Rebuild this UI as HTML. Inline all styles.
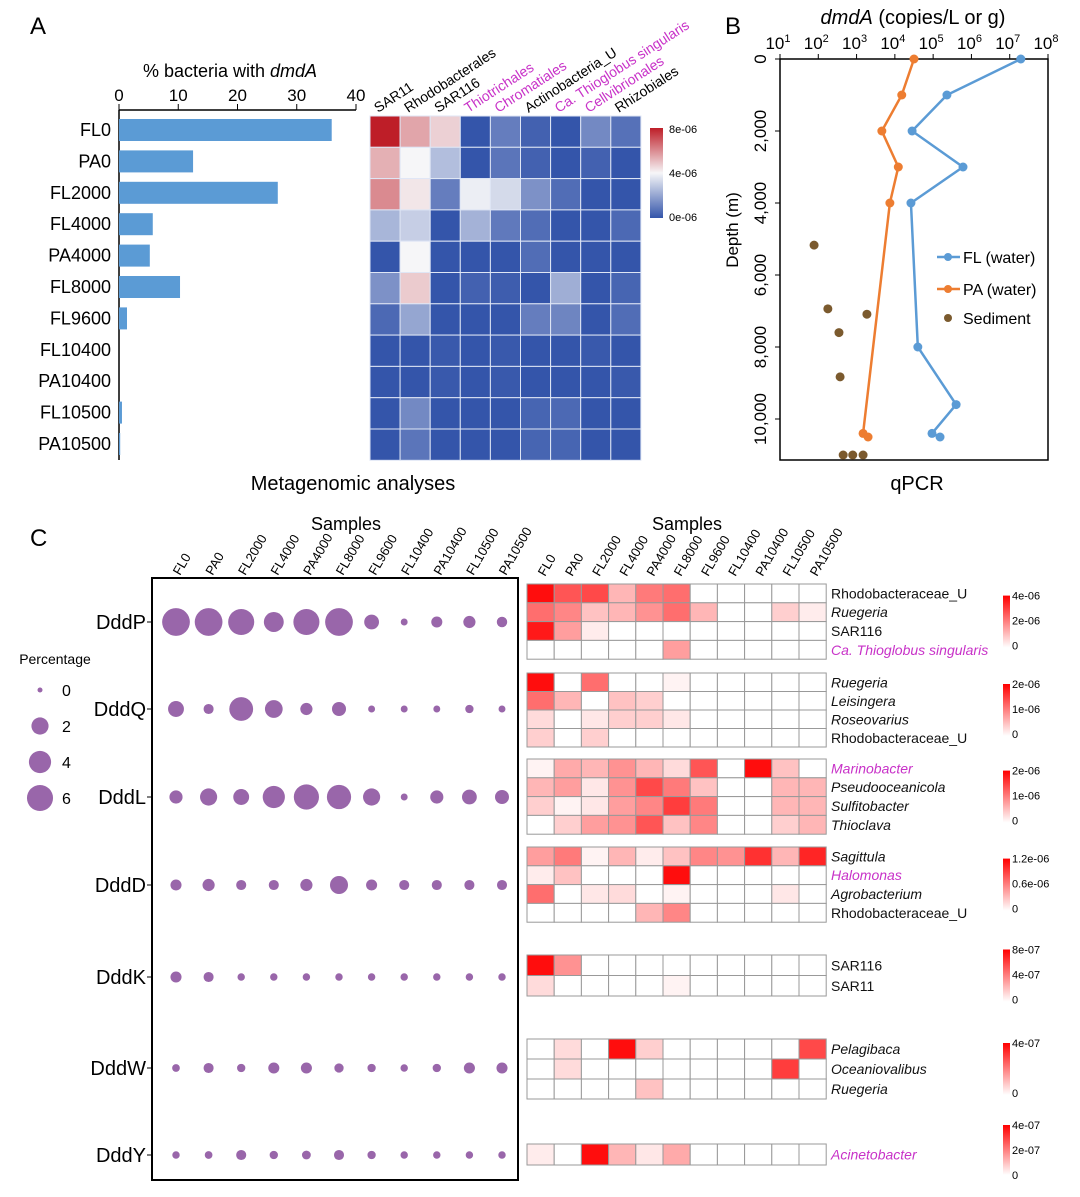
<!DOCTYPE html>
<html><head><meta charset="utf-8"><style>
body{margin:0;background:#fff}
svg{display:block;font-family:"Liberation Sans",Arial,sans-serif}
</style></head><body>
<svg id="fig" width="1080" height="1197" viewBox="0 0 1080 1197" xmlns="http://www.w3.org/2000/svg">
<text x="30" y="34" font-size="24">A</text>
<text x="725" y="34" font-size="24">B</text>
<text x="30" y="546" font-size="24">C</text>
<text x="230" y="77" font-size="18" text-anchor="middle">% bacteria with <tspan font-style="italic">dmdA</tspan></text>
<text x="353" y="490" font-size="20" text-anchor="middle">Metagenomic analyses</text>
<text x="917" y="490" font-size="20" text-anchor="middle">qPCR</text>
<g id="gA"></g>
<g id="gH"></g>
<g id="gB"></g>
<g id="gC"></g>
<g id="gR"></g>
</svg>
<script>
const samples=["FL0","PA0","FL2000","FL4000","PA4000","FL8000","FL9600","FL10400","PA10400","FL10500","PA10500"];
const barValues=[35.9,12.5,26.8,5.7,5.2,10.3,1.35,0,0,0.5,0.2];
const barTicks=[0,10,20,30,40];
const taxaA=["SAR11","Rhodobacterales","SAR116","Thiotrichales","Chromatiales","Actinobacteria_U","Ca. Thioglobus singularis","Cellvibrionales","Rhizobiales"];
const taxaAMagenta=[false,false,false,true,true,false,true,true,false];
const heatA=[
[8,5.5,4.7,0,1,0.3,0,1.3,0.7],
[5.3,4,2.6,0,0.8,0.3,0,0.3,0],
[6,4.3,1,3.8,3.3,1.5,0.6,0,0],
[2.4,3,0,2.3,0.9,0.6,0,0,0.5],
[0,4,0,0,0,0.6,0,0,0],
[1.5,4.8,0,0.3,0.2,0,2.2,0,0.4],
[0.5,2,0,0,0,1,1.2,0,0.6],
[0,0,0.1,0,0.1,0,0,0.1,0],
[0,0,0.1,0,0.1,0,0,0,0.1],
[0,1.3,0,0,0,0.4,0.5,0,0],
[0,0.8,0,0,0,0.4,0.4,0,0]];
const depthTicks=[0,2000,4000,6000,8000,10000];
const flDepth=[0,1000,2000,3000,4000,8000,9600,10400,10500];
const flLog=[7.29,5.36,4.45,5.78,4.42,4.6,5.6,4.97,5.18];
const paDepth=[0,1000,2000,3000,4000,10400,10500];
const paLog=[4.5,4.18,3.66,4.09,3.87,3.17,3.3];
const sedDepth=[5170,6940,7090,7600,8830,11000,11000,11000];
const sedLog=[1.89,2.25,3.27,2.54,2.57,2.65,2.9,3.17];
const genes=["DddP","DddQ","DddL","DddD","DddK","DddW","DddY"];
const bubbles=[
[7,7,6,3,6,7,1.3,0.05,0.5,0.7,0.4],
[1.6,0.35,4.8,2.2,0.7,1.1,0.05,0.05,0.05,0.15,0.05],
[0.9,2,1.6,4,5.5,5,2,0.05,0.9,1.3,1.1],
[0.5,0.7,0.35,0.35,0.7,2.3,0.5,0.35,0.35,0.35,0.35],
[0.5,0.35,0.08,0.08,0.08,0.08,0.08,0.08,0.08,0.08,0.08],
[0.1,0.35,0.15,0.5,0.5,0.25,0.15,0.08,0.15,0.5,0.5],
[0.08,0.1,0.35,0.15,0.2,0.35,0.15,0.08,0.08,0.08,0.08]];
const sizeLegend=[0,2,4,6];
const gTaxa=[
["Rhodobacteraceae_U","Ruegeria","SAR116","Ca. Thioglobus singularis"],
["Ruegeria","Leisingera","Roseovarius","Rhodobacteraceae_U"],
["Marinobacter","Pseudooceanicola","Sulfitobacter","Thioclava"],
["Sagittula","Halomonas","Agrobacterium","Rhodobacteraceae_U"],
["SAR116","SAR11"],
["Pelagibaca","Oceaniovalibus","Ruegeria"],
["Acinetobacter"]];
const gVals=[
[[1,.7,.75,.3,.55,.6,0,0,0,0,0],[.6,.5,.25,.3,.45,.6,.3,0,0,.2,.08],[.95,.4,.08,0,0,0,0,0,0,0,0],[0,0,0,0,0,.4,0,0,0,0,0]],
[[1,0,.6,0,0,.05,0,0,0,0,0],[.6,.3,0,.25,.2,0,0,0,0,0,0],[.15,0,.1,.2,.2,.1,0,0,0,0,0],[.2,0,.2,0,0,0,0,0,0,0,0]],
[[.05,.35,.3,.45,.3,.15,.7,0,1,.25,0],[.3,.4,.1,.45,.75,.55,.25,0,0,.3,.3],[.2,.05,.1,.4,.5,.8,.55,0,0,.3,.3],[0,.2,.4,.45,.7,.25,.5,0,0,.2,.3]],
[[.4,.55,.05,.3,.08,.25,.5,.45,.85,.3,.9],[.08,.25,0,0,0,1,0,0,0,0,0],[.6,0,.1,.15,0,.05,0,0,0,.1,0],[0,0,0,0,.3,.5,0,0,0,0,0]],
[[1,.45,0,0,0,0,0,0,0,0,0],[.15,0,0,0,0,.05,0,0,0,0,0]],
[[0,.15,0,1,.2,0,0,0,0,0,.75],[0,.15,0,0,0,0,0,0,0,.8,0],[0,0,0,0,.25,0,0,0,0,0,0]],
[[.08,0,1,.3,.1,.35,0,0,0,0,0]]];
const gLegend=[["4e-06","2e-06","0"],["2e-06","1e-06","0"],["2e-06","1e-06","0"],["1.2e-06","0.6e-06","0"],["8e-07","4e-07","0"],["4e-07","","0"],["4e-07","2e-07","0"]];

const NS="http://www.w3.org/2000/svg";
function mk(parent,tag,attrs,text){const e=document.createElementNS(NS,tag);for(const k in attrs)e.setAttribute(k,attrs[k]);if(text!==undefined)e.textContent=text;parent.appendChild(e);return e;}
const ITAL=new Set(["Ruegeria","Leisingera","Roseovarius","Marinobacter","Pseudooceanicola","Sulfitobacter","Thioclava","Sagittula","Halomonas","Agrobacterium","Pelagibaca","Oceaniovalibus","Acinetobacter","Ca. Thioglobus singularis"]);
const MAG=new Set(["Ca. Thioglobus singularis","Marinobacter","Halomonas","Acinetobacter"]);
const MAGC="#c832c8";

// ---- Panel A bars
const gA=document.getElementById('gA');
const bx=v=>119+v*(356-119)/40, rowY=i=>130+i*31.4;
mk(gA,'line',{x1:119,y1:110,x2:356,y2:110,stroke:'#000','stroke-width':1.5});
mk(gA,'line',{x1:119,y1:110,x2:119,y2:460,stroke:'#000','stroke-width':1.5});
barTicks.forEach(t=>{
 const l=mk(gA,'line',{x1:bx(t),y1:110,x2:bx(t),y2:104,stroke:'#000'});
 
 const tx=mk(gA,'text',{x:bx(t),y:101,'font-size':17,'text-anchor':'middle'},t);
 
});
samples.forEach((s,i)=>{
 const r=mk(gA,'rect',{x:119,y:rowY(i)-11,width:Math.max(0,bx(barValues[i])-119),height:22,fill:'#5b9bd5'});
 
 const t=mk(gA,'text',{x:111,y:rowY(i)+6,'font-size':18,'text-anchor':'end'},s);
 
});

// ---- Heatmap A
const gH=document.getElementById('gH');
function div(v){const t=Math.max(0,Math.min(1,v/8));let a,b,f;
 if(t<0.5){a=[52,85,170];b=[246,246,248];f=t/0.5;}else{a=[246,246,248];b=[190,30,40];f=(t-0.5)/0.5;}
 return 'rgb('+a.map((c,k)=>Math.round(c+(b[k]-c)*f)).join(',')+')';}
const cw=30.1,ch=31.3,hx=370,hy=116;
heatA.forEach((row,i)=>row.forEach((v,j)=>{
 const r=mk(gH,'rect',{x:hx+j*cw,y:hy+i*ch,width:cw,height:ch,fill:div(v),stroke:'#dfe6f5','stroke-width':1});
 
}));
taxaA.forEach((n,j)=>{
 const x=hx+j*cw+8,y=hy-3;
 const t=mk(gH,'text',{x:x,y:y,'font-size':14,transform:'rotate(-33 '+x+' '+y+')',fill:taxaAMagenta[j]?MAGC:'#000'},n);
 
});
const gradA=mk(gH,'linearGradient',{id:'gradA',x1:0,y1:1,x2:0,y2:0});
[0,4,8].forEach((v,k)=>mk(gradA,'stop',{offset:k/2,'stop-color':div(v)}));
const cbA=mk(gH,'rect',{x:650,y:128,width:13,height:90,fill:'url(#gradA)'});

[["8e-06",133],["4e-06",177],["0e-06",221]].forEach(([l,y])=>{const t=mk(gH,'text',{x:669,y:y,'font-size':11},l);});

// ---- Panel B
const gB=document.getElementById('gB');
const lx=l=>780+(l-1)*(1048-780)/7, dy=d=>59+d*0.036;
mk(gB,'rect',{x:780,y:59,width:268,height:401,fill:'none',stroke:'#000','stroke-width':1.5});
mk(gB,'text',{x:913,y:24,'font-size':20,'text-anchor':'middle'}).innerHTML='<tspan font-style="italic">dmdA</tspan> (copies/L or g)';
for(let e=1;e<=8;e++){
 const t=mk(gB,'text',{x:lx(e)-2,y:49,'font-size':17,'text-anchor':'middle'});t.innerHTML='10<tspan dy="-7" font-size="11">'+e+'</tspan>';
 
 mk(gB,'line',{x1:lx(e),y1:59,x2:lx(e),y2:54,stroke:'#000'});
}
depthTicks.forEach(d=>{
 const y=dy(d);mk(gB,'line',{x1:780,y1:y,x2:775,y2:y,stroke:'#000'});
 const t=mk(gB,'text',{x:766,y:y,'font-size':17,'text-anchor':'middle',transform:'rotate(-90 766 '+y+')'},d.toLocaleString('en-US'));
 
});
const yt=mk(gB,'text',{x:738,y:230,'font-size':17,'text-anchor':'middle',transform:'rotate(-90 738 230)'},'Depth (m)');

function series(dep,lg,col,name){
 const pts=dep.map((d,i)=>lx(lg[i])+','+dy(d)).join(' ');
 const pl=mk(gB,'polyline',{points:pts,fill:'none',stroke:col,'stroke-width':2.5});
 
 dep.forEach((d,i)=>{const c=mk(gB,'circle',{cx:lx(lg[i]),cy:dy(d),r:4.5,fill:col});});
}
series(flDepth,flLog,'#5b9bd5','fl');
series(paDepth,paLog,'#ed7d31','pa');
sedDepth.forEach((d,i)=>{const c=mk(gB,'circle',{cx:lx(sedLog[i]),cy:dy(d),r:4.5,fill:'#7b5a2e'});});
[["#5b9bd5","FL (water)",257,true],["#ed7d31","PA (water)",289,true],["#7b5a2e","Sediment",318,false]].forEach(([c,l,y,ln])=>{
 if(ln)mk(gB,'line',{x1:937,y1:y,x2:960,y2:y,stroke:c,'stroke-width':2.5});
 mk(gB,'circle',{cx:948,cy:y,r:4,fill:c});
 const t=mk(gB,'text',{x:963,y:y+6,'font-size':16},l);
});

// ---- Panel C bubbles
const gC=document.getElementById('gC');
const sx=j=>176+j*32.6, gy=[622,709,797,885,977,1068,1155];
const rad=v=>2.5+Math.sqrt(v)*4.3;
mk(gC,'rect',{x:152,y:578,width:366,height:602,fill:'none',stroke:'#000','stroke-width':2});
mk(gC,'text',{x:346,y:530,'font-size':18,'text-anchor':'middle'},'Samples');
mk(gC,'text',{x:687,y:530,'font-size':18,'text-anchor':'middle'},'Samples');
samples.forEach((s,j)=>{
 const x=sx(j)+4,y=576;
 const t=mk(gC,'text',{x:x,y:y,'font-size':13,transform:'rotate(-60 '+x+' '+y+')'},s);
 const x2=541+j*27.2+4,y2=577;
 const t2=mk(gC,'text',{x:x2,y:y2,'font-size':13,transform:'rotate(-60 '+x2+' '+y2+')'},s);
});
genes.forEach((g,i)=>{
 const t=mk(gC,'text',{x:146,y:gy[i]+7,'font-size':20,'text-anchor':'end'},g);
 mk(gC,'line',{x1:147,y1:gy[i],x2:152,y2:gy[i],stroke:'#000'});
 bubbles[i].forEach((v,j)=>{const c=mk(gC,'circle',{cx:sx(j),cy:gy[i],r:rad(v),fill:'#9966aa'});});
});
mk(gC,'text',{x:55,y:664,'font-size':14,'text-anchor':'middle'},'Percentage');
sizeLegend.forEach((v,k)=>{const y=690+k*36;
 const c=mk(gC,'circle',{cx:40,cy:y,r:rad(v),fill:'#9966aa'});
 mk(gC,'text',{x:62,y:y+6,'font-size':16},v);});

// ---- Panel C heatmaps
const gR=document.getElementById('gR');
const gTop=[584,673,759,847,955,1039,1144],gRowH=[18.8,18.5,18.8,18.8,20.5,20,21];
const red=v=>'rgb(255,'+Math.round(255*(1-v*0.95))+','+Math.round(255*(1-v*0.95))+')';
const redGrad=mk(gR,'linearGradient',{id:'gradR',x1:0,y1:1,x2:0,y2:0});
mk(redGrad,'stop',{offset:0,'stop-color':'#fff'});mk(redGrad,'stop',{offset:1,'stop-color':'#f00'});
gVals.forEach((grp,gi)=>{
 grp.forEach((row,ri)=>{const y=gTop[gi]+ri*gRowH[gi];
  row.forEach((v,j)=>{const r=mk(gR,'rect',{x:527+j*27.2,y:y,width:27.2,height:gRowH[gi],fill:red(v),stroke:'#999','stroke-width':1});});
  const n=gTaxa[gi][ri];
  const t=mk(gR,'text',{x:831,y:y+gRowH[gi]/2+5,'font-size':14,fill:MAG.has(n)?MAGC:'#111','font-style':ITAL.has(n)?'italic':'normal'},n);
  
 });
 const h=grp.length*gRowH[gi];
 const top=gTop[gi]+h/2-26, bh=Math.max(50,h);
 const cb=mk(gR,'rect',{x:1003,y:gi==6?1125:top,width:7,height:gi==6?50:52,fill:'url(#gradR)'});
 const ty=gi==6?1125:top;
 gLegend[gi].forEach((l,k)=>{if(!l)return;const t=mk(gR,'text',{x:1012,y:ty+4+k*25,'font-size':11},l);});
});
</script>
</body></html>
